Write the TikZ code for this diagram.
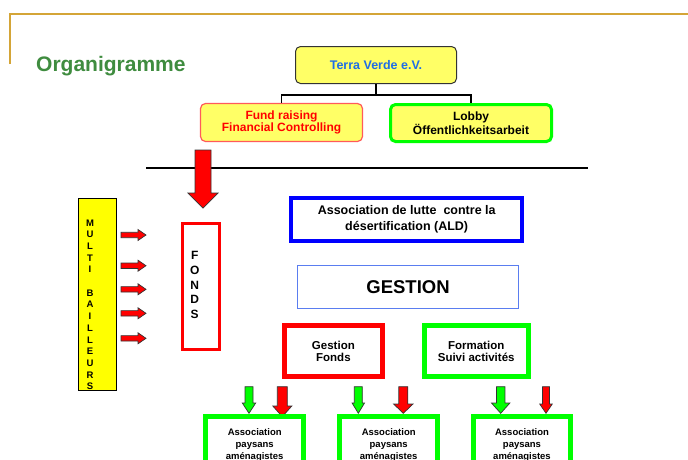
\documentclass[tikz,border=0pt]{standalone}
\usepackage{fontspec}
\setmainfont{Liberation Sans}

\definecolor{goldline}{RGB}{212,165,55}
\definecolor{titlegreen}{RGB}{63,140,63}
\definecolor{paleyellow}{RGB}{255,255,102}
\definecolor{multiyellow}{RGB}{255,255,0}
\definecolor{terrablue}{RGB}{30,110,230}
\definecolor{fundred}{RGB}{255,90,90}
\definecolor{brightgreen}{RGB}{0,255,0}
\definecolor{gestblue}{RGB}{90,125,240}

% block arrow pointing down: colour, x, top, neck, tip, shaft half width, head half width
\newcommand{\downblock}[7]{%
  \draw[line width=0.7pt, draw=black!80, fill=#1] (#2-#6,#3) -- (#2+#6,#3) -- (#2+#6,#4) -- (#2+#7,#4)
    -- (#2,#5) -- (#2-#7,#4) -- (#2-#6,#4) -- cycle;}
% small block arrow pointing right, at height #1
\newcommand{\rightblock}[1]{%
  \draw[line width=0.7pt, draw=black!80, fill=red] (121,#1-2.7) -- (138,#1-2.7) -- (138,#1-5.5)
    -- (146,#1) -- (138,#1+5.5) -- (138,#1+2.7) -- (121,#1+2.7) -- cycle;}

\begin{document}
\begin{tikzpicture}[x=1pt, y=-1pt,
    topbox/.style={draw, rounded corners=5pt, fill=paleyellow, align=center, inner sep=0pt,
      font=\fontsize{12}{12.7}\selectfont\bfseries},
    framebox/.style={draw, fill=white, align=center, inner sep=0pt},
    letters/.style={align=center, inner sep=0pt}]
    \useasboundingbox (0,0) rectangle (688,459);
    \fill[white] (0,0) rectangle (688,459);
    \clip (0,0) rectangle (688,459);

    % cadre et titre
    \draw[goldline, line width=1.5pt] (10,64) -- (10,14) -- (688,14);
    \node[anchor=base west, inner sep=0pt, text=titlegreen, font=\fontsize{21}{24}\selectfont\bfseries] (title) at (36,71.7) {Organigramme};

    % Terra Verde et ses deux branches
    \node[topbox, draw=black!80, line width=1pt, minimum width=161pt, minimum height=37pt, text=terrablue,
      font=\fontsize{12.5}{13}\selectfont\bfseries, text depth=1pt] (terra) at (376,65) {Terra Verde e.V.};
    \node[topbox, draw=fundred, line width=1.2pt, minimum width=162pt, minimum height=38pt, text=red] (fund) at (281.5,122.5) {Fund raising\\Financial Controlling};
    \node[topbox, draw=brightgreen, line width=3pt, minimum width=161pt, minimum height=37pt] (lobby) at (471,123) {Lobby\\Öffentlichkeitsarbeit};

    \draw[line width=1.8pt] (terra.south) -- ++(0,11) coordinate (split);
    \draw[line width=1.8pt] (split) -| (fund.north);
    \draw[line width=1.8pt] (split) -| (lobby.north);

    \draw[line width=2.5pt] (146,168) -- (588,168);
    \downblock{red}{203}{150}{193}{208}{8}{15}

    % bailleurs et fonds
    \node[framebox, fill=multiyellow, draw=black, line width=1pt, minimum width=38pt, minimum height=192pt] (multi) at (97.8,294.7) {};
    \node[letters, font=\fontsize{9.5}{11.7}\selectfont\bfseries] (multitext) at (90,304.7) {M\\U\\L\\T\\I\\[11.7pt]B\\A\\I\\L\\L\\E\\U\\R\\S};

    \rightblock{235}
    \rightblock{265.7}
    \rightblock{289.3}
    \rightblock{313.3}
    \rightblock{338.3}

    \node[framebox, draw=red, line width=3pt, minimum width=37.6pt, minimum height=126.3pt] (fonds) at (201,286.3) {};
    \node[letters, font=\fontsize{12}{14.6}\selectfont\bfseries] (fondstext) at (194.7,285) {F\\O\\N\\D\\S};

    % ALD
    \node[framebox, draw=blue, line width=4pt, minimum width=230.7pt, minimum height=42.7pt,
      font=\fontsize{12.5}{16.5}\selectfont\bfseries] (ald) at (406.7,219.4) {Association de lutte \ contre la\\désertification (ALD)};
    \node[framebox, draw=gestblue, line width=1pt, minimum width=221.7pt, minimum height=43.3pt,
      font=\fontsize{18.5}{20}\selectfont\bfseries] (gestion) at (408,287.2) {GESTION};
    \node[framebox, draw=red, line width=5pt, minimum width=98.3pt, minimum height=51pt,
      font=\fontsize{11.5}{12.5}\selectfont\bfseries] (gfonds) at (333.4,351.3) {Gestion\\Fonds};
    \node[framebox, draw=brightgreen, line width=5pt, minimum width=104pt, minimum height=51pt,
      font=\fontsize{11.5}{12.5}\selectfont\bfseries] (formation) at (476.2,351.3) {Formation\\Suivi activités};

    % associations paysannes
    \downblock{brightgreen}{249}{386.7}{403}{413.3}{4}{6.7}
    \downblock{red}{282.3}{386.7}{406}{416.7}{5}{9.5}
    \downblock{brightgreen}{358.3}{386.7}{403}{413.3}{4}{6.2}
    \downblock{red}{403.3}{386.7}{404}{413.3}{4.5}{9.7}
    \downblock{brightgreen}{500.7}{386.7}{403}{413.3}{4.2}{9.2}
    \downblock{red}{546}{386.7}{404}{413.3}{3.5}{6.3}

    \node[framebox, draw=brightgreen, line width=5pt, minimum width=97.7pt, minimum height=58pt,
      font=\fontsize{9.5}{12}\selectfont\bfseries] (asso1) at (254.7,445.5) {Association\\paysans\\aménagistes};
    \node[framebox, draw=brightgreen, line width=5pt, minimum width=97.7pt, minimum height=58pt,
      font=\fontsize{9.5}{12}\selectfont\bfseries] (asso2) at (388.7,445.5) {Association\\paysans\\aménagistes};
    \node[framebox, draw=brightgreen, line width=5pt, minimum width=97.7pt, minimum height=58pt,
      font=\fontsize{9.5}{12}\selectfont\bfseries] (asso3) at (522,445.5) {Association\\paysans\\aménagistes};
\end{tikzpicture}
\end{document}
